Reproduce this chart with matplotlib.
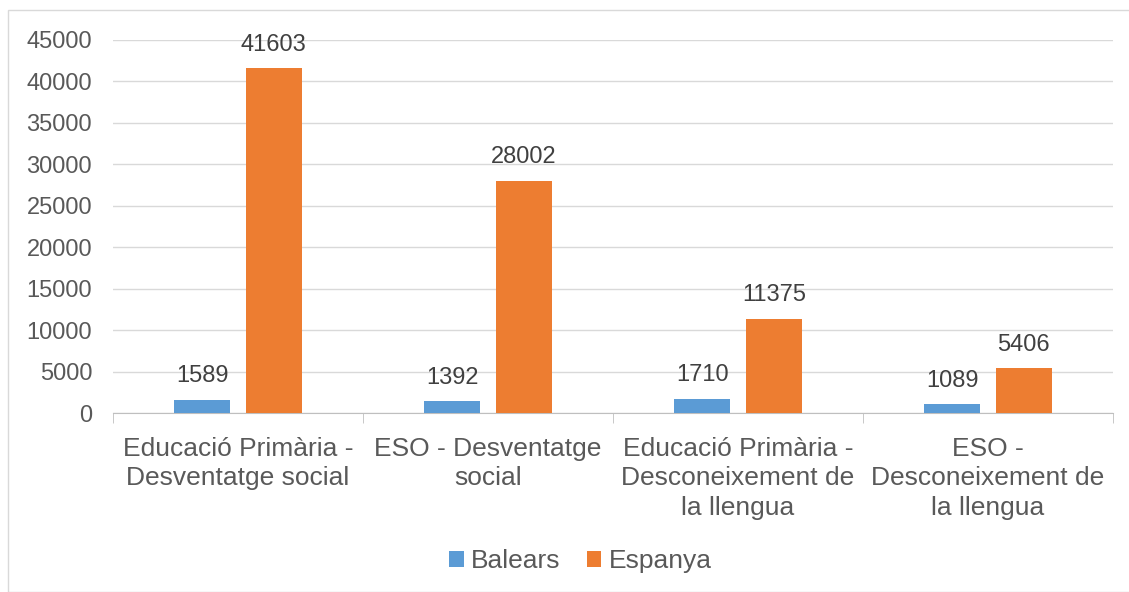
import numpy as np
import matplotlib.pyplot as plt
from matplotlib.patches import Rectangle

# Dades
categories = ["Educació Primària -\nDesventatge social",
              "ESO - Desventatge\nsocial",
              "Educació Primària -\nDesconeixement de\nla llengua",
              "ESO -\nDesconeixement de\nla llengua"]
balears = [1589, 1392, 1710, 1089]
espanya = [41603, 28002, 11375, 5406]
yticks = np.arange(0, 45001, 5000)

plt.rcParams['font.family'] = ['Liberation Sans', 'DejaVu Sans']

fig = plt.figure(figsize=(11.29, 5.92), dpi=100)
ax = fig.add_axes([113/1129, 1 - 413/592, 1000/1129, 373/592])

# cadre du graphique
fig.patches.append(Rectangle((8/1129, 0), 1 - 8/1129 + 0.01, 1 - 10/592,
                             transform=fig.transFigure, fill=False,
                             edgecolor='#d9d9d9', linewidth=1))

x = np.arange(len(categories))
w = 0.224
off = 0.143
b1 = ax.bar(x - off, balears, w, color='#5b9bd5', label='Balears', zorder=3)
b2 = ax.bar(x + off, espanya, w, color='#ed7d31', label='Espanya', zorder=3)

for bars in (b1, b2):
    for r in bars:
        ax.text(r.get_x() + r.get_width()/2, r.get_height() + 1500,
                str(int(r.get_height())), ha='center', va='bottom',
                fontsize=17, color='#404040')

ax.set_xlim(-0.5, len(categories) - 0.5)
ax.set_ylim(0, 45000)
ax.set_yticks(yticks)
ax.set_yticklabels([str(v) for v in yticks], fontsize=17, color='#595959')
ax.yaxis.grid(True, color='#d9d9d9', linewidth=1, zorder=0)
ax.tick_params(axis='y', length=0, pad=15)

ax.set_xticks(x)
ax.set_xticklabels(categories, fontsize=19, color='#595959', linespacing=1.3)
ax.tick_params(axis='x', which='major', length=0, pad=17)
ax.set_xticks(np.arange(-0.5, len(categories), 1), minor=True)
ax.tick_params(axis='x', which='minor', length=7, color='#bfbfbf')

for s in ['top', 'right', 'left']:
    ax.spines[s].set_visible(False)
ax.spines['bottom'].set_color('#bfbfbf')

fig.legend(handles=[b1, b2], loc='center', bbox_to_anchor=(0.514, 0.052),
           ncol=2, frameon=False, fontsize=19, handlelength=0.55,
           handleheight=0.55, handletextpad=0.27, columnspacing=1.0,
           labelcolor='#595959')

plt.savefig('out.png', dpi=100)
